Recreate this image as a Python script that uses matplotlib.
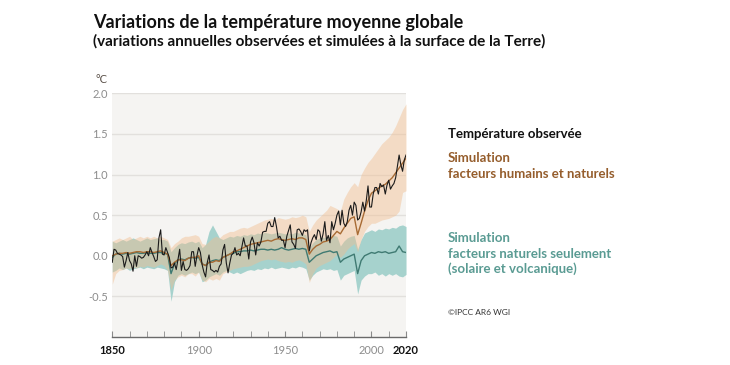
import numpy as np
import matplotlib
matplotlib.use("Agg")
import matplotlib.pyplot as plt

# observed annual anomaly 1850-2020 (°C)
annees_obs = np.arange(1850, 2021)
obs = [
    -0.08, 0.08, 0.07, 0.03, 0.02, 0.01, -0.01, -0.14, -0.06, 0.04,
    -0.06, -0.10, -0.19, 0.00, -0.13, 0.00, -0.01, -0.03, -0.02, 0.01,
    0.05, 0.00, 0.10, 0.04, -0.01, -0.07, -0.05, 0.22, 0.32, 0.02,
    0.01, 0.10, 0.04, -0.02, -0.15, -0.14, -0.09, -0.17, -0.05, 0.08,
    -0.18, -0.07, -0.17, -0.18, -0.16, -0.12, 0.05, 0.05, -0.13, 0.00,
    0.10, 0.04, -0.11, -0.20, -0.26, -0.08, 0.01, -0.17, -0.18, -0.20,
    -0.18, -0.20, -0.13, -0.10, 0.07, 0.14, -0.09, -0.21, -0.09, 0.01,
    0.03, 0.10, 0.01, 0.03, 0.00, 0.11, 0.22, 0.12, 0.12, -0.04,
    0.17, 0.23, 0.16, 0.01, 0.16, 0.12, 0.17, 0.29, 0.30, 0.30,
    0.40, 0.42, 0.36, 0.36, 0.47, 0.36, 0.22, 0.24, 0.19, 0.19,
    0.10, 0.24, 0.31, 0.38, 0.17, 0.14, 0.09, 0.32, 0.33, 0.30,
    0.25, 0.32, 0.30, 0.32, 0.06, 0.16, 0.22, 0.26, 0.20, 0.32,
    0.30, 0.18, 0.27, 0.42, 0.19, 0.25, 0.16, 0.42, 0.32, 0.40,
    0.50, 0.55, 0.38, 0.56, 0.40, 0.36, 0.42, 0.56, 0.62, 0.50,
    0.66, 0.62, 0.44, 0.46, 0.54, 0.66, 0.55, 0.68, 0.86, 0.60,
    0.60, 0.76, 0.84, 0.84, 0.76, 0.89, 0.85, 0.87, 0.76, 0.87,
    0.93, 0.82, 0.86, 0.89, 0.96, 1.10, 1.24, 1.12, 1.04, 1.18,
    1.24,
]

# simulations, one value every 2 years 1850-2020
annees_sim = np.arange(1850, 2021, 2)

hum_moy = [
    0.00, 0.02, 0.03, 0.03, 0.04, 0.03, 0.04, 0.05, 0.05, 0.04,
    0.05, 0.05, 0.04, 0.05, 0.06, 0.04, 0.02, -0.12, -0.08, -0.05,
    -0.05, -0.06, -0.03, -0.02, -0.02, 0.00, -0.10, -0.12, -0.08, -0.08,
    -0.06, -0.07, -0.02, 0.00, 0.02, 0.05, 0.06, 0.08, 0.10, 0.12,
    0.14, 0.15, 0.16, 0.17, 0.18, 0.19, 0.18, 0.20, 0.21, 0.20,
    0.19, 0.20, 0.21, 0.20, 0.22, 0.22, 0.20, 0.02, 0.08, 0.12,
    0.14, 0.17, 0.18, 0.20, 0.25, 0.30, 0.27, 0.34, 0.40, 0.46,
    0.48, 0.26, 0.40, 0.55, 0.68, 0.77, 0.80, 0.83, 0.86, 0.88,
    0.92, 0.96, 1.02, 1.08, 1.14, 1.20,
]
hum_bas = [
    -0.35, -0.22, -0.18, -0.17, -0.15, -0.16, -0.14, -0.15, -0.13, -0.14,
    -0.12, -0.13, -0.14, -0.12, -0.10, -0.12, -0.18, -0.42, -0.30, -0.26,
    -0.24, -0.26, -0.22, -0.22, -0.25, -0.20, -0.30, -0.32, -0.28, -0.30,
    -0.28, -0.30, -0.22, -0.20, -0.18, -0.16, -0.15, -0.14, -0.13, -0.13,
    -0.12, -0.10, -0.08, -0.06, -0.05, -0.04, -0.05, -0.04, -0.06, -0.07,
    -0.08, -0.07, -0.08, -0.06, -0.05, -0.07, -0.10, -0.33, -0.22, -0.15,
    -0.12, -0.10, -0.08, -0.06, -0.02, 0.02, -0.02, 0.02, 0.08, 0.12,
    0.15, 0.05, 0.20, 0.30, 0.36, 0.40, 0.40, 0.42, 0.44, 0.45,
    0.46, 0.48, 0.50, 0.55, 0.78, 0.80,
]
hum_haut = [
    0.18, 0.20, 0.22, 0.20, 0.22, 0.24, 0.20, 0.22, 0.24, 0.22,
    0.24, 0.22, 0.24, 0.22, 0.24, 0.22, 0.20, 0.10, 0.15, 0.18,
    0.22, 0.24, 0.24, 0.25, 0.26, 0.24, 0.15, 0.14, 0.18, 0.22,
    0.24, 0.22, 0.26, 0.28, 0.30, 0.30, 0.32, 0.34, 0.35, 0.34,
    0.36, 0.38, 0.40, 0.42, 0.44, 0.45, 0.46, 0.44, 0.47, 0.46,
    0.45, 0.46, 0.48, 0.47, 0.48, 0.50, 0.48, 0.30, 0.38, 0.44,
    0.48, 0.52, 0.56, 0.62, 0.60, 0.58, 0.55, 0.70, 0.78, 0.85,
    0.90, 0.85, 1.00, 1.08, 1.15, 1.20, 1.26, 1.32, 1.38, 1.42,
    1.46, 1.52, 1.60, 1.70, 1.80, 1.87,
]

nat_moy = [
    -0.02, 0.02, 0.03, 0.02, 0.03, 0.02, 0.03, 0.04, 0.03, 0.03,
    0.04, 0.03, 0.03, 0.04, 0.04, 0.03, 0.02, -0.22, -0.10, -0.05,
    -0.04, -0.05, -0.03, -0.02, -0.03, -0.02, -0.10, -0.12, -0.08, -0.06,
    -0.05, -0.06, -0.02, 0.00, 0.02, 0.03, 0.05, 0.05, 0.06, 0.06,
    0.07, 0.06, 0.07, 0.08, 0.08, 0.07, 0.08, 0.07, 0.08, 0.10,
    0.08, 0.07, 0.08, 0.09, 0.08, 0.09, 0.08, -0.08, -0.04, 0.00,
    0.02, 0.04, 0.05, 0.06, 0.04, 0.05, -0.08, -0.04, -0.02, 0.00,
    0.02, -0.22, -0.06, 0.00, 0.02, 0.04, 0.03, 0.05, 0.04, 0.05,
    0.03, 0.04, 0.05, 0.12, 0.05, 0.04,
]
nat_bas = [
    -0.20, -0.18, -0.15, -0.17, -0.15, -0.18, -0.16, -0.15, -0.14, -0.16,
    -0.14, -0.15, -0.16, -0.14, -0.15, -0.16, -0.18, -0.56, -0.32, -0.24,
    -0.22, -0.24, -0.22, -0.20, -0.22, -0.20, -0.32, -0.30, -0.26, -0.24,
    -0.22, -0.24, -0.20, -0.18, -0.20, -0.22, -0.20, -0.22, -0.20, -0.18,
    -0.17, -0.18, -0.16, -0.17, -0.15, -0.16, -0.14, -0.16, -0.15, -0.14,
    -0.15, -0.16, -0.14, -0.15, -0.13, -0.14, -0.16, -0.30, -0.24, -0.20,
    -0.18, -0.16, -0.17, -0.16, -0.18, -0.17, -0.30, -0.24, -0.22, -0.20,
    -0.18, -0.47, -0.30, -0.25, -0.22, -0.22, -0.20, -0.24, -0.22, -0.25,
    -0.22, -0.24, -0.22, -0.25, -0.26, -0.23,
]
nat_haut = [
    0.18, 0.16, 0.18, 0.20, 0.18, 0.20, 0.22, 0.20, 0.18, 0.20,
    0.22, 0.20, 0.21, 0.22, 0.20, 0.20, 0.18, 0.05, 0.10, 0.14,
    0.16, 0.15, 0.17, 0.18, 0.16, 0.18, 0.10, 0.14, 0.30, 0.38,
    0.30, 0.22, 0.20, 0.22, 0.24, 0.23, 0.25, 0.24, 0.26, 0.25,
    0.27, 0.26, 0.28, 0.27, 0.29, 0.28, 0.27, 0.28, 0.29, 0.28,
    0.27, 0.28, 0.27, 0.29, 0.28, 0.27, 0.26, 0.10, 0.16, 0.20,
    0.22, 0.23, 0.22, 0.24, 0.25, 0.24, 0.12, 0.18, 0.22, 0.24,
    0.25, 0.08, 0.20, 0.28, 0.30, 0.32, 0.30, 0.33, 0.32, 0.34,
    0.33, 0.35, 0.34, 0.37, 0.38, 0.36,
]

y_ticks = [-0.5, 0.0, 0.5, 1.0, 1.5, 2.0]
x_ticks = [1850, 1900, 1950, 2000, 2020]

police = "Lato"
marron = "#955d2c"
vert = "#5a9b93"

fig = plt.figure(figsize=(7.3, 3.65), dpi=100)
ax = fig.add_axes([0.1538, 0.0767, 0.4024, 0.6677])
ax.set_facecolor("#f5f4f2")

ax.fill_between(annees_sim, nat_bas, nat_haut, color="#a6d2cd", lw=0)
ax.fill_between(annees_sim, hum_bas, hum_haut, color="#f1be90", alpha=0.45, lw=0)
ax.plot(annees_sim, nat_moy, color="#3f7a72", lw=1.0)
ax.plot(annees_sim, hum_moy, color="#a86b34", lw=1.0)
ax.plot(annees_obs, obs, color="#1a1a1a", lw=0.8)

ax.set_xlim(1850, 2020)
ax.set_ylim(-1.0, 2.0)
for v in y_ticks:
    ax.axhline(v, color="#e2e0dd", lw=1, zorder=0.5)

for s in ["top", "right", "left"]:
    ax.spines[s].set_visible(False)
ax.spines["bottom"].set_color("#6a6a6a")
ax.spines["bottom"].set_linewidth(1)

ax.set_yticks(y_ticks)
ax.set_yticklabels([f"{v:.1f}" for v in y_ticks], fontfamily=police, fontsize=8, color="#8c8c8c")
ax.tick_params(axis="y", length=0, pad=3)

ax.set_xticks(x_ticks)
ax.set_xticks(np.arange(1850, 2020, 10), minor=True)
ax.set_xticklabels([str(a) for a in x_ticks], fontfamily=police, fontsize=8, color="#8c8c8c")
for lab in ax.get_xticklabels():
    if lab.get_text() in ("1850", "2020"):
        lab.set_color("#111111")
        lab.set_fontweight("bold")
ax.tick_params(axis="x", which="both", direction="in", length=4, color="#8a8a8a", pad=6)

fig.text(0.131, 0.773, "°C", fontfamily=police, fontsize=8, color="#5a5048")

fig.text(0.1274, 0.9233, "Variations de la température moyenne globale",
         fontfamily=police, fontsize=13, fontweight="bold", color="#111111")
fig.text(0.1274, 0.8753, "(variations annuelles observées et simulées à la surface de la Terre)",
         fontfamily=police, fontsize=11, fontweight="bold", color="#111111")

xl = 0.6137
taille = 9.5
fig.text(xl, 0.622, "Température observée", fontfamily=police, fontsize=taille, fontweight="bold", color="#111111")
fig.text(xl, 0.556, "Simulation", fontfamily=police, fontsize=taille, fontweight="bold", color=marron)
fig.text(xl, 0.512, "facteurs humains et naturels", fontfamily=police, fontsize=taille, fontweight="bold", color=marron)
fig.text(xl, 0.337, "Simulation", fontfamily=police, fontsize=taille, fontweight="bold", color=vert)
fig.text(xl, 0.293, "facteurs naturels seulement", fontfamily=police, fontsize=taille, fontweight="bold", color=vert)
fig.text(xl, 0.252, "(solaire et volcanique)", fontfamily=police, fontsize=taille, fontweight="bold", color=vert)
fig.text(xl, 0.137, "©IPCC AR6 WGI", fontfamily=police, fontsize=6, color="#333333")

fig.savefig("out.png", dpi=100, facecolor="white")
